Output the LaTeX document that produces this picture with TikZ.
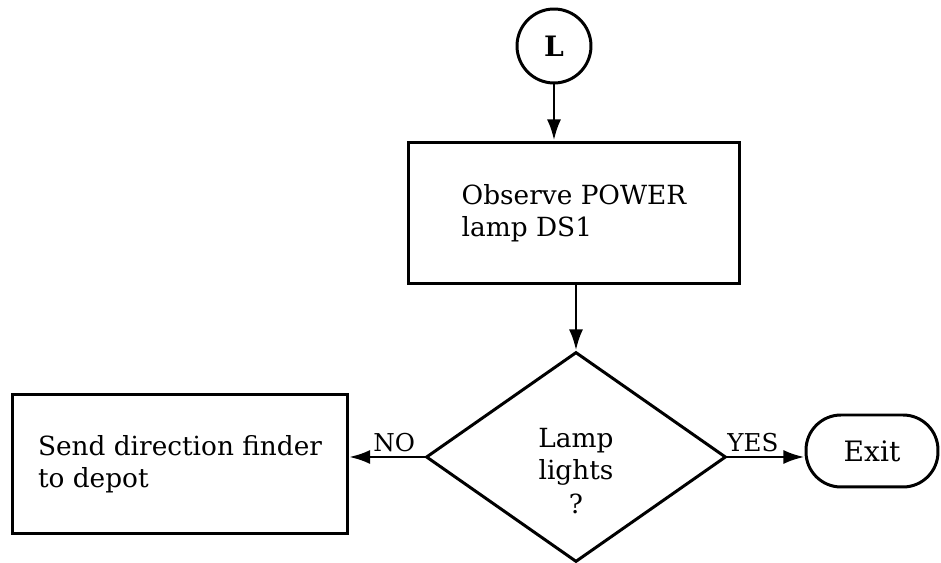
\documentclass[tikz,border=0pt]{standalone}
\usepackage{fontspec}
\setmainfont{DejaVu Serif}
\usetikzlibrary{positioning,calc,shapes.geometric,arrows.meta}
\tikzset{
  txt/.style        = {font=\fontsize{15}{18.2}\selectfont},
  connector/.style  = {circle, draw=black, line width=1.7pt, minimum size=1.48cm, inner sep=0pt, font=\fontsize{16}{18}\selectfont\bfseries},
  procbox/.style    = {rectangle, draw=black, line width=1.7pt, align=left, inner sep=0pt, txt},
  decision/.style   = {diamond, draw=black, line width=1.7pt, align=center, inner sep=0pt, minimum width=6cm, minimum height=4.2cm, txt},
  terminal/.style   = {rectangle, rounded corners=0.7cm, draw=black, line width=1.7pt, minimum width=2.64cm, minimum height=1.44cm, inner sep=0pt, font=\fontsize{16}{18}\selectfont},
  flow/.style       = {-{Latex[length=12pt, width=8pt]}, line width=1.7pt},
  answer/.style     = {font=\fontsize{14}{16}\selectfont, inner sep=2pt},
}

\begin{document}
\begin{tikzpicture}[x=0.02cm,y=-0.02cm]
  \useasboundingbox (0,0) rectangle (941,563);

  % entry point
  \node[connector] (start) at (554,46) {L};

  % check power lamp
  \node[procbox, minimum width=6.64cm, minimum height=2.84cm] (observe) at (574,213) {Observe POWER\\lamp DS1};
  \node[decision] (lamp) at (576,457) {\rule{0pt}{0.95cm}Lamp\\lights\\[1pt]?};

  % outcomes
  \node[procbox, minimum width=6.7cm, minimum height=2.8cm] (send) at (180,464) {Send direction finder\\to depot};
  \node[terminal] (exit) at (872,451) {Exit};

  \draw[flow] (start.south) -- (start.south |- observe.north);
  \draw[flow] (observe.south -| lamp.north) -- (lamp.north);
  \draw[flow] (lamp.west) -- node[answer, above, pos=0.4] {NO} (lamp.west -| send.east);
  \draw[flow] (lamp.east) -- node[answer, above, pos=0.33] {YES} (lamp.east -| exit.west);
\end{tikzpicture}
\end{document}
